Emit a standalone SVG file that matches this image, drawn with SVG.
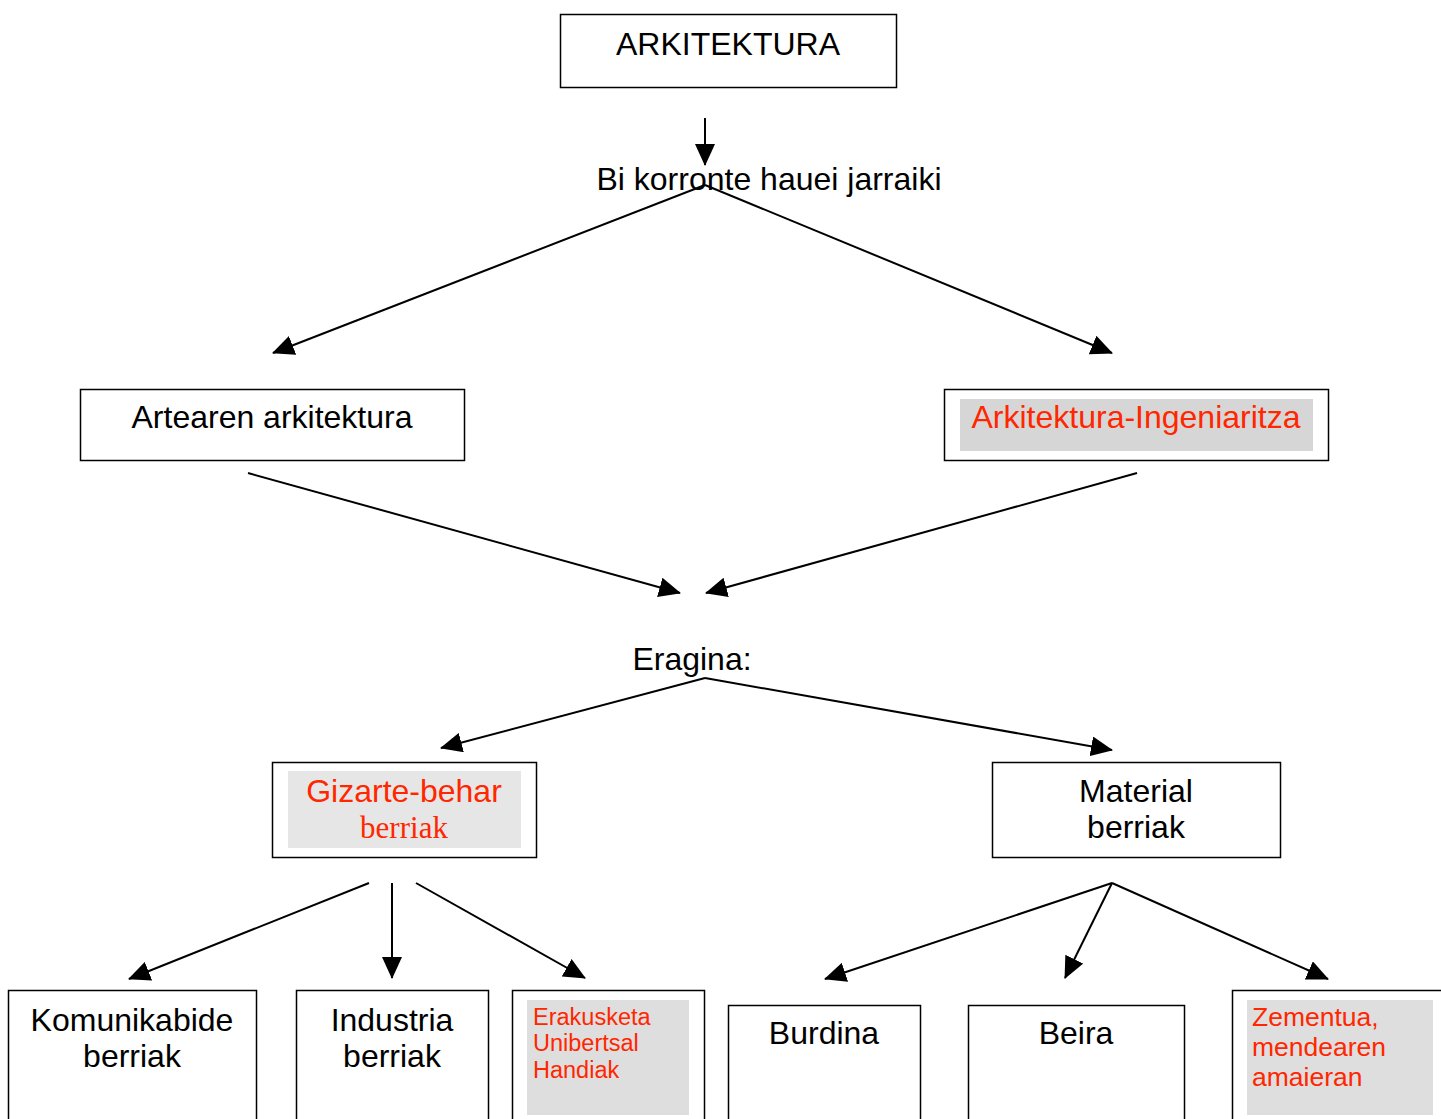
<svg xmlns="http://www.w3.org/2000/svg" width="1441" height="1119" viewBox="0 0 1441 1119">
<defs>
<style>
.box{fill:#fff;stroke:#000;stroke-width:1.5}
.t{font-family:"Liberation Sans",Arial,sans-serif;font-size:32px;fill:#000}
.c{text-anchor:middle}
.red{fill:#ff2600}
.serif{font-family:"Liberation Serif","Times New Roman",serif}
.con{stroke:#000;stroke-width:2;fill:none;marker-end:url(#ah)}
</style>
<marker id="ah" markerUnits="userSpaceOnUse" markerWidth="22" markerHeight="20" refX="21" refY="10" orient="auto" viewBox="0 0 22 20">
<path d="M0,0 L22,10 L0,20 z" fill="#000"/>
</marker>
</defs>
<rect width="1441" height="1119" fill="#fff"/>
<g id="connectors">
<line class="con" x1="705" y1="118" x2="705" y2="165"/>
<line class="con" x1="705" y1="185" x2="273" y2="353"/>
<line class="con" x1="705" y1="185" x2="1112" y2="353"/>
<line class="con" x1="248" y1="473" x2="680" y2="593"/>
<line class="con" x1="1137" y1="473" x2="706" y2="593"/>
<line class="con" x1="705" y1="678" x2="441" y2="748"/>
<line class="con" x1="705" y1="678" x2="1112" y2="750"/>
<line class="con" x1="369" y1="883" x2="129" y2="979"/>
<line class="con" x1="392" y1="883" x2="392" y2="978"/>
<line class="con" x1="416" y1="883" x2="585" y2="978"/>
<line class="con" x1="1112" y1="883" x2="825" y2="979"/>
<line class="con" x1="1112" y1="883" x2="1065" y2="978"/>
<line class="con" x1="1112" y1="883" x2="1328" y2="979"/>
</g>
<g id="arkitektura">
<rect class="box" x="560.5" y="14.5" width="336" height="73"/>
<text class="t c" x="728" y="55">ARKITEKTURA</text>
</g>
<g id="bi-korronte">
<text class="t c" x="769" y="190">Bi korronte hauei jarraiki</text>
</g>
<g id="artearen">
<rect class="box" x="80.5" y="389.5" width="384" height="71"/>
<text class="t c" x="272" y="428">Artearen arkitektura</text>
</g>
<g id="ingeniaritza">
<rect class="box" x="944.5" y="389.5" width="384" height="71"/>
<rect x="960" y="399" width="353" height="52" fill="#d6d6d6"/>
<text class="t c red" x="1136" y="428">Arkitektura-Ingeniaritza</text>
</g>
<g id="eragina">
<text class="t c" x="692" y="670">Eragina:</text>
</g>
<g id="gizarte">
<rect class="box" x="272.5" y="762.5" width="264" height="95"/>
<rect x="288" y="771" width="233" height="77" fill="#e6e6e6"/>
<text class="t c red" x="404" y="802">Gizarte-behar</text>
<text class="t c red serif" x="404" y="838" style="font-size:31px">berriak</text>
</g>
<g id="material">
<rect class="box" x="992.5" y="762.5" width="288" height="95"/>
<text class="t c" x="1136" y="802">Material</text>
<text class="t c" x="1136" y="838">berriak</text>
</g>
<g id="komunikabide">
<rect class="box" x="8.5" y="990.5" width="248" height="140"/>
<text class="t c" x="132" y="1031">Komunikabide</text>
<text class="t c" x="132" y="1067">berriak</text>
</g>
<g id="industria">
<rect class="box" x="296.5" y="990.5" width="192" height="140"/>
<text class="t c" x="392" y="1031">Industria</text>
<text class="t c" x="392" y="1067">berriak</text>
</g>
<g id="erakusketa">
<rect class="box" x="512.5" y="990.5" width="192" height="140"/>
<rect x="527" y="1000" width="162" height="115" fill="#dedede"/>
<text class="t red" x="533" y="1025" style="font-size:23.5px">Erakusketa</text>
<text class="t red" x="533" y="1051" style="font-size:23.5px">Unibertsal</text>
<text class="t red" x="533" y="1078" style="font-size:23.5px">Handiak</text>
</g>
<g id="burdina">
<rect class="box" x="728.5" y="1005.5" width="192" height="130"/>
<text class="t c" x="824" y="1044">Burdina</text>
</g>
<g id="beira">
<rect class="box" x="968.5" y="1005.5" width="216" height="130"/>
<text class="t c" x="1076" y="1044">Beira</text>
</g>
<g id="zementua">
<rect class="box" x="1232.5" y="990.5" width="230" height="140"/>
<rect x="1247" y="1000" width="186" height="115" fill="#dedede"/>
<text class="t red" x="1252" y="1026" style="font-size:26.5px">Zementua,</text>
<text class="t red" x="1252" y="1056" style="font-size:26.5px">mendearen</text>
<text class="t red" x="1252" y="1086" style="font-size:26.5px">amaieran</text>
</g>
</svg>
